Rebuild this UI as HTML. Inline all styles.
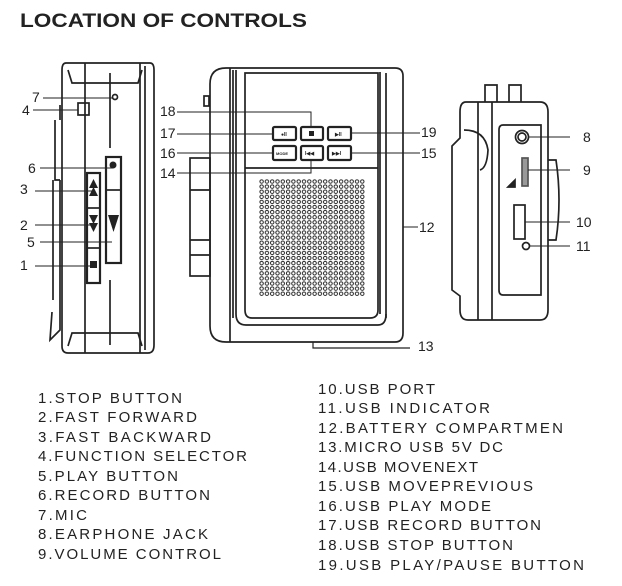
<!DOCTYPE html>
<html><head><meta charset="utf-8"><style>
html,body{margin:0;padding:0;background:#fff;}
svg{display:block;}
text{font-family:"Liberation Sans",Arial,sans-serif;fill:#222;}
</style></head><body>
<svg width="622" height="586" viewBox="0 0 622 586" xmlns="http://www.w3.org/2000/svg">
<defs>
<pattern id="dots" x="259" y="179" width="5.3" height="5.1" patternUnits="userSpaceOnUse">
<circle cx="2.6" cy="2.5" r="1.7" fill="none" stroke="#222" stroke-width="1"/>
</pattern>
</defs>
<text x="20" y="27" font-size="19" font-weight="bold" textLength="287" lengthAdjust="spacingAndGlyphs">LOCATION OF CONTROLS</text>

<g fill="none" stroke="#222" stroke-width="1.7">
<!-- LEFT DEVICE -->
<path d="M66,63 H150 Q154,63 154,70 V345 Q154,353 148,353 H68 Q62,353 62,346 V70 Q62,63 66,63 Z"/>
<path d="M68,70 L72,83 H138 L142,70"/>
<path d="M68,346 L72,333 H138 L142,346"/>
<line x1="85" y1="63" x2="85" y2="353"/>
<line x1="110" y1="73" x2="110" y2="148"/>
<line x1="110" y1="280" x2="110" y2="345"/>
<line x1="140" y1="63" x2="140" y2="353"/>
<line x1="145" y1="66" x2="145" y2="350"/>
<path d="M60,105 V120 M55,120 V180 H60 M53,180 V300 M60,180 V330 L50,340 L52,312"/>
<rect x="78" y="103" width="11" height="12"/>
<rect x="87" y="173" width="13" height="110" stroke-width="2.2"/>
<line x1="87" y1="208" x2="100" y2="208"/><line x1="87" y1="248" x2="100" y2="248"/>
<rect x="106" y="157" width="15" height="106" stroke-width="2.2"/>
<line x1="106" y1="190" x2="121" y2="190"/>
<circle cx="115" cy="97" r="2.5"/>
<line x1="43" y1="98" x2="113" y2="98" stroke-width="1"/>
<line x1="33" y1="110" x2="78" y2="110" stroke-width="1"/>
<line x1="40" y1="168" x2="113" y2="168" stroke-width="1"/>
<line x1="35" y1="191" x2="92" y2="191" stroke-width="1"/>
<line x1="35" y1="225" x2="92" y2="225" stroke-width="1"/>
<line x1="40" y1="242" x2="112" y2="242" stroke-width="1"/>
<line x1="35" y1="266" x2="90" y2="266" stroke-width="1"/>

<!-- CENTER DEVICE -->
<path d="M226,68 H395 Q403,68 403,76 V333 Q403,342 395,342 H226 Q210,342 210,326 V84 Q210,68 226,68 Z"/>
<line x1="230" y1="68" x2="230" y2="342"/>
<path d="M233,70 V318 M236,70 V314 M386,73 V318 M380,72 V314"/>
<path d="M245,73 H378 V310 Q378,318 370,318 H252 Q245,318 245,310 Z"/>
<path d="M236,314 Q236,325 246,325 H378 Q386,325 386,314"/>
<line x1="245" y1="168" x2="378" y2="168"/>
<rect x="190" y="158" width="20" height="118"/>
<line x1="190" y1="190" x2="210" y2="190"/><line x1="190" y1="240" x2="210" y2="240"/><line x1="190" y1="255" x2="210" y2="255"/>
<rect x="204" y="96" width="5" height="10"/>
<path d="M313,342 V348 H410" stroke-width="1.2"/>
<rect x="259" y="179" width="106" height="117" fill="url(#dots)" stroke="none"/>
<g stroke-width="2.2">
<rect x="273" y="127" width="23" height="13" rx="1.5"/>
<rect x="301" y="127" width="22" height="13" rx="1.5"/>
<rect x="328" y="127" width="23" height="13" rx="1.5"/>
<rect x="273" y="146" width="23" height="14" rx="1.5"/>
<rect x="301" y="146" width="22" height="14" rx="1.5"/>
<rect x="328" y="146" width="23" height="14" rx="1.5"/>
</g>
<path d="M177,112 H311 V127" stroke-width="1"/>
<line x1="177" y1="134" x2="273" y2="134" stroke-width="1"/>
<line x1="177" y1="153" x2="273" y2="153" stroke-width="1"/>
<path d="M177,173 H311 V160" stroke-width="1"/>
<line x1="351" y1="133" x2="420" y2="133" stroke-width="1"/>
<line x1="351" y1="153" x2="420" y2="153" stroke-width="1"/>
<line x1="403" y1="227" x2="418" y2="227" stroke-width="1"/>

<!-- RIGHT DEVICE -->
<path d="M466,102 H540 Q548,102 548,112 V310 Q548,320 540,320 H468 Q460,320 460,310 V296 L452,290 V146 L460,138 V112 Q460,102 466,102 Z"/>
<line x1="478" y1="102" x2="478" y2="320"/><line x1="492" y1="102" x2="492" y2="320"/>
<path d="M464,130 Q485,130 488,150 Q487,168 480,170"/>
<path d="M485,102 V85 H497 V102 M509,102 V85 H521 V102"/>
<path d="M503,125 H541 V295 H503 Q499,295 499,290 V130 Q499,125 503,125 Z"/>
<path d="M548,160 H556 Q562,200 556,240 H548"/>
<circle cx="522" cy="137" r="6.5"/><circle cx="522" cy="137" r="4"/>
<rect x="522" y="158" width="6" height="28" fill="#999" stroke="#555"/>
<path d="M508,187 L515,180 V187 Z" fill="#222"/>
<rect x="514" y="205" width="11" height="34"/>
<circle cx="526" cy="246" r="3.5"/>
<line x1="528" y1="137" x2="570" y2="137" stroke-width="1"/>
<line x1="528" y1="170" x2="570" y2="170" stroke-width="1"/>
<line x1="525" y1="222" x2="570" y2="222" stroke-width="1"/>
<line x1="530" y1="246" x2="570" y2="246" stroke-width="1"/>
</g>
<g fill="#222">
<polygon points="89,188 98,188 93.5,179"/><polygon points="89,196 98,196 93.5,187"/>
<polygon points="89,215 98,215 93.5,224"/><polygon points="89,223 98,223 93.5,232"/>
<rect x="90" y="261" width="7" height="7"/>
<polygon points="108,215 119,215 113.5,232"/>
<circle cx="113" cy="165" r="3.5"/>
<rect x="309" y="131" width="5" height="5"/>
</g>
<g font-size="5" font-weight="bold">
<text x="281" y="136">●II</text><text x="335" y="136">▶II</text>
<text x="276" y="155" font-size="4">MODE</text><text x="305" y="155">I◀◀</text><text x="332" y="155">▶▶I</text>
</g>

<g font-size="14">
<text x="32" y="102">7</text><text x="22" y="115">4</text><text x="28" y="173">6</text>
<text x="20" y="194">3</text><text x="20" y="230">2</text><text x="27" y="247">5</text><text x="20" y="270">1</text>
<text x="160" y="116">18</text><text x="160" y="138">17</text><text x="160" y="158">16</text><text x="160" y="178">14</text>
<text x="421" y="137">19</text><text x="421" y="158">15</text><text x="419" y="232">12</text><text x="418" y="351">13</text>
<text x="583" y="142">8</text><text x="583" y="175">9</text><text x="576" y="227">10</text><text x="576" y="251">11</text>
</g>

<g font-size="15">
<text x="38" y="403" textLength="144">1.STOP BUTTON</text>
<text x="38" y="422" textLength="159">2.FAST FORWARD</text>
<text x="38" y="442" textLength="173">3.FAST BACKWARD</text>
<text x="38" y="461" textLength="209">4.FUNCTION SELECTOR</text>
<text x="38" y="481" textLength="140">5.PLAY BUTTON</text>
<text x="38" y="500" textLength="172">6.RECORD BUTTON</text>
<text x="38" y="520" textLength="49">7.MIC</text>
<text x="38" y="539" textLength="170">8.EARPHONE JACK</text>
<text x="38" y="559" textLength="183">9.VOLUME CONTROL</text>
<text x="318" y="394" textLength="117">10.USB PORT</text>
<text x="318" y="413" textLength="172">11.USB  INDICATOR</text>
<text x="318" y="433" textLength="245">12.BATTERY COMPARTMEN</text>
<text x="318" y="452" textLength="185">13.MICRO USB 5V DC</text>
<text x="318" y="472" textLength="160">14.USB MOVENEXT</text>
<text x="318" y="491" textLength="215">15.USB  MOVEPREVIOUS</text>
<text x="318" y="511" textLength="173">16.USB PLAY MODE</text>
<text x="318" y="530" textLength="223">17.USB RECORD BUTTON</text>
<text x="318" y="550" textLength="195">18.USB STOP BUTTON</text>
<text x="318" y="570" textLength="266">19.USB PLAY/PAUSE  BUTTON</text>
</g>
</svg>
</body></html>
